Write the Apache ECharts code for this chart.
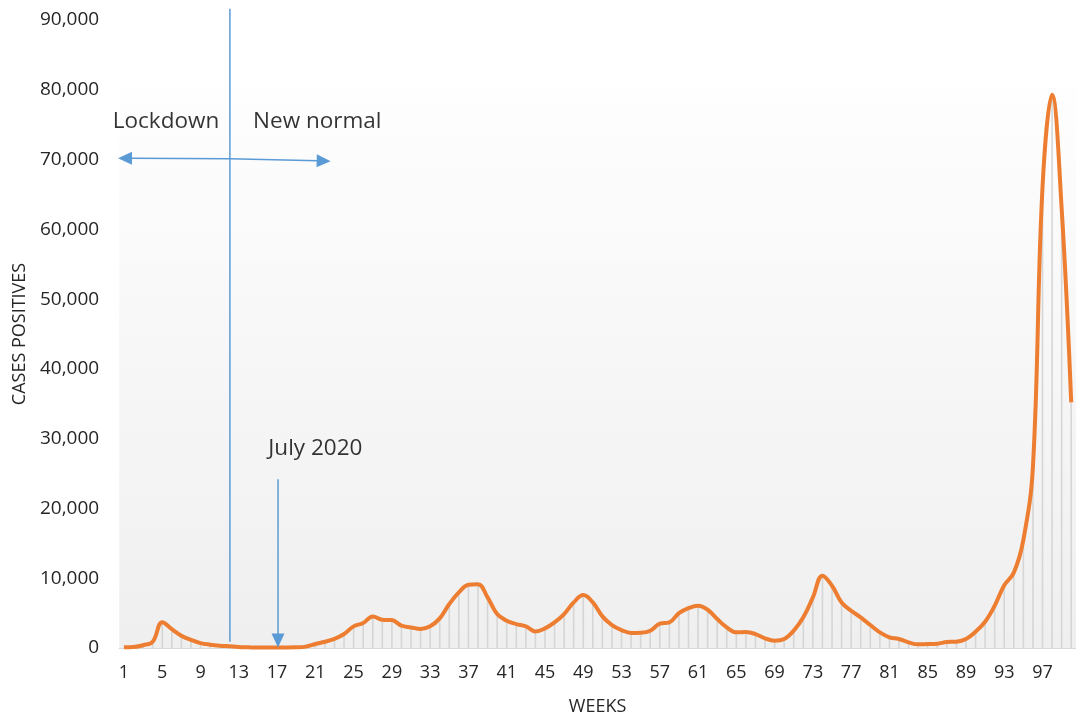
<!DOCTYPE html>
<html>
<head>
<meta charset="utf-8">
<script src="https://cdn.jsdelivr.net/npm/echarts@6/dist/echarts.min.js"></script>
<style>
html,body{margin:0;padding:0;background:#fff;}
#chart{width:1076px;height:721px;}
</style>
</head>
<body>
<div id="chart"></div>
<script>
var weeks = [];
for (var i = 1; i <= 100; i++) weeks.push(String(i));

var cases = [
  100, 150, 400, 900, 3700, 2700, 1760, 1150, 700, 480,
  330, 240, 150, 100, 60, 60, 80, 80, 100, 200,
  570, 900, 1300, 2000, 3100, 3570, 4530, 4050, 4000, 3200,
  2950, 2720, 3100, 4240, 6300, 7960, 9060, 9150, 7250, 4860,
  3910, 3430, 3100, 2380, 2810, 3670, 4860, 6530, 7580, 6530,
  4530, 3290, 2570, 2150, 2190, 2480, 3480, 3670, 5000, 5720,
  6060, 5480, 4150, 2950, 2240, 2290, 2000, 1380, 1050, 1290,
  2480, 4390, 7250, 10350, 8920, 6530, 5340, 4390, 3290, 2240,
  1530, 1290, 810, 520, 570, 620, 860, 910, 1290, 2340,
  3770, 6060, 9000, 10800, 15500, 26000, 66000, 79300, 63000, 35200
];

var yTicks = [0, 10000, 20000, 30000, 40000, 50000, 60000, 70000, 80000, 90000];

// annotation positions in (week, cases) data coordinates
var dividerWeek = 12.07;
var julyWeek = 17.1;
var annotationTexts = [
  [5.39, 75450, 'Lockdown'],
  [21.2, 75450, 'New normal'],
  [21.0, 28550, 'July 2020']
];
// [from, to, arrowhead at end?]
var annotationLines = [
  [[dividerWeek, 91600], [dividerWeek, 900], false],
  [[dividerWeek, 70100], [0.375, 70200], true],
  [[dividerWeek, 70100], [22.6, 69770], true],
  [[julyWeek, 24200], [julyWeek, 80], true]
];

var FONT = '"Open Sans", sans-serif';
var blue = '#5b9bd5';
var textColor = '#262626';

var chart = echarts.init(document.getElementById('chart'), null, {renderer: 'canvas'});
chart.setOption({
  animation: false,
  backgroundColor: '#ffffff',
  grid: {left: 119.2, right: -0.8, top: 20, bottom: 72, containLabel: false},
  xAxis: [
    {
      type: 'category',
      data: weeks,
      boundaryGap: true,
      axisTick: {show: false},
      axisLine: {lineStyle: {color: '#d9d9d9', width: 1}},
      axisLabel: {interval: 3, fontSize: 18, color: textColor, fontFamily: FONT, margin: 16},
      name: 'WEEKS',
      nameLocation: 'middle',
      nameGap: 50,
      nameTextStyle: {fontSize: 18, color: textColor, fontFamily: FONT},
      splitLine: {show: false}
    },
    {
      type: 'value', min: 0.5, max: 100.5, show: false
    }
  ],
  yAxis: {
    type: 'value',
    min: yTicks[0],
    max: yTicks[yTicks.length - 1],
    interval: 10000,
    axisLine: {show: false},
    axisTick: {show: false},
    splitLine: {show: false},
    axisLabel: {
      fontSize: 19, color: textColor, fontFamily: FONT, margin: 20,
      formatter: function (v) { return v.toLocaleString('en-US'); }
    },
    name: 'CASES POSITIVES',
    nameLocation: 'middle',
    nameGap: 90,
    nameTextStyle: {fontSize: 18, color: textColor, fontFamily: FONT}
  },
  series: [
    {
      name: 'background',
      type: 'line',
      xAxisIndex: 1,
      data: [],
      silent: true,
      z: 0,
      markArea: {
        silent: true,
        itemStyle: {
          color: new echarts.graphic.LinearGradient(0, 0, 0, 1, [
            {offset: 0, color: '#fefefe'},
            {offset: 1, color: '#efefef'}
          ])
        },
        data: [[{coord: [0.5, 80300]}, {coord: [100.5, 0]}]]
      }
    },
    {
      name: 'drop',
      type: 'bar',
      data: cases,
      barWidth: 1.6,
      itemStyle: {color: '#d6d6d6'},
      silent: true,
      z: 1
    },
    {
      name: 'Cases',
      type: 'line',
      data: cases,
      smooth: 0.4,
      showSymbol: false,
      lineStyle: {color: '#ed7d31', width: 4},
      itemStyle: {color: '#ed7d31'},
      z: 3
    },
    {
      name: 'labels',
      type: 'scatter',
      xAxisIndex: 1,
      data: annotationTexts,
      symbolSize: 1,
      itemStyle: {color: 'transparent'},
      silent: true,
      z: 5,
      label: {
        show: true,
        position: 'inside',
        formatter: function (p) { return p.data[2]; },
        fontSize: 22.5,
        color: '#000',
        fontFamily: FONT
      }
    }
  ]
});

function toPx(pt) {
  return chart.convertToPixel({xAxisIndex: 1, yAxisIndex: 0}, pt);
}
var graphics = [];
var headLen = 14, headHalf = 6.5;
annotationLines.forEach(function (a) {
  var p0 = toPx(a[0]), p1 = toPx(a[1]);
  var dx = p1[0] - p0[0], dy = p1[1] - p0[1];
  var len = Math.sqrt(dx * dx + dy * dy);
  var ux = dx / len, uy = dy / len;
  var end = p1;
  if (a[2]) {
    var bx = p1[0] - ux * headLen, by = p1[1] - uy * headLen;
    end = [bx + ux * 1, by + uy * 1];
    graphics.push({
      type: 'polygon', z: 100, silent: true,
      shape: {points: [p1, [bx - uy * headHalf, by + ux * headHalf], [bx + uy * headHalf, by - ux * headHalf]]},
      style: {fill: blue}
    });
  }
  graphics.push({
    type: 'line', z: 100, silent: true,
    shape: {x1: p0[0], y1: p0[1], x2: end[0], y2: end[1]},
    style: {stroke: blue, lineWidth: 1.5}
  });
});
chart.setOption({graphic: graphics});
</script>
</body>
</html>
